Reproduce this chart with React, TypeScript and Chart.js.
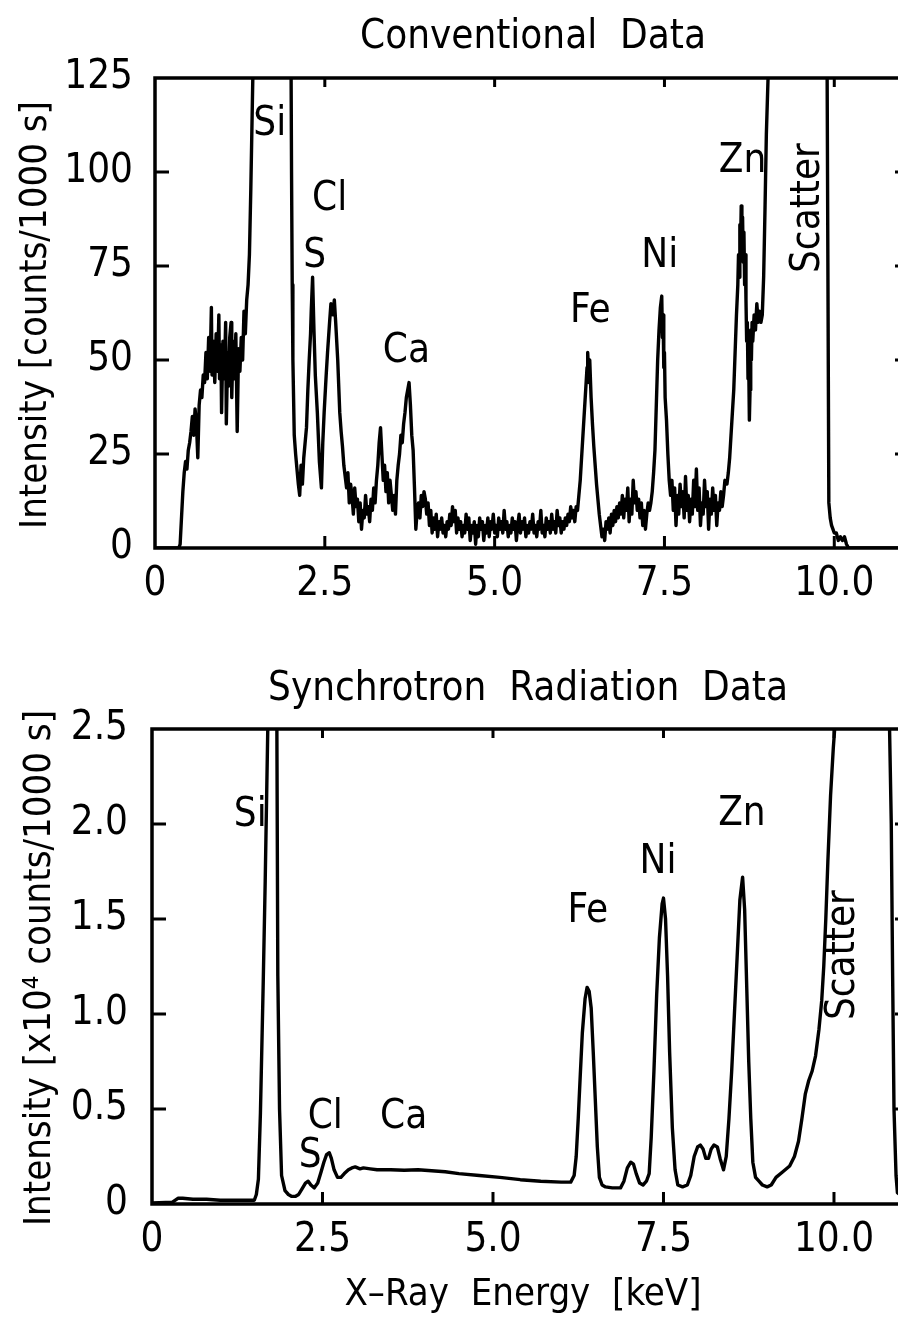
import React, { useEffect, useRef } from 'react';
import { Chart, registerables } from 'chart.js';
Chart.register(...registerables);

// ---------------- Data: Conventional spectrum [keV, counts/1000 s] ----------------
const convLow = [
  [0, 0], [0.35, 0], [0.37, 1], [0.39, 8], [0.41, 15], [0.43, 20], [0.45, 23], [0.47, 21], [0.49, 26],
  [0.51, 28], [0.53, 31], [0.55, 35], [0.57, 30], [0.59, 37], [0.61, 33], [0.63, 24], [0.65, 38],
  [0.67, 42], [0.69, 40], [0.71, 46], [0.73, 44], [0.75, 52], [0.77, 45], [0.79, 56], [0.81, 47],
  [0.83, 64], [0.84, 46], [0.86, 55], [0.88, 44], [0.9, 57], [0.92, 47], [0.94, 62], [0.95, 45],
  [0.97, 54], [0.98, 36], [1.0, 55], [1.02, 45], [1.04, 60], [1.05, 33], [1.07, 52], [1.08, 43],
  [1.1, 56], [1.12, 60], [1.13, 40], [1.15, 55], [1.17, 45], [1.19, 57], [1.21, 31], [1.23, 53],
  [1.25, 47], [1.27, 56], [1.29, 50], [1.31, 63], [1.33, 57], [1.35, 66], [1.37, 70], [1.39, 78],
  [1.41, 95], [1.43, 115], [1.45, 135], [1.5, 300],
];
const convSiS = [
  [1.98, 300], [2.0, 140], [2.01, 100], [2.02, 70], [2.03, 50], [2.05, 30], [2.07, 25], [2.09, 21],
  [2.11, 17], [2.13, 14], [2.15, 22], [2.17, 17], [2.19, 24], [2.21, 28], [2.23, 32], [2.25, 42],
  [2.27, 50], [2.29, 57], [2.3, 63], [2.32, 72], [2.34, 58], [2.36, 46], [2.39, 36], [2.42, 23],
  [2.45, 16], [2.47, 28], [2.49, 36], [2.52, 46], [2.54, 52], [2.57, 60], [2.59, 65], [2.62, 62],
  [2.64, 66], [2.66, 60], [2.69, 50], [2.72, 36], [2.74, 31], [2.76, 27], [2.78, 22], [2.8, 19],
  [2.82, 16], [2.84, 20], [2.86, 12], [2.88, 17],
];
const convCa = [
  [2.9, 14], [2.92, 9], [2.94, 16], [2.96, 11], [2.98, 13], [3.0, 7], [3.02, 12], [3.04, 5], [3.06, 10],
  [3.08, 8], [3.1, 14], [3.12, 9], [3.14, 11], [3.16, 7], [3.18, 13], [3.2, 10], [3.22, 16], [3.24, 12],
  [3.26, 18], [3.28, 22], [3.3, 28], [3.32, 32], [3.34, 25], [3.36, 18], [3.38, 22], [3.4, 15],
  [3.42, 20], [3.44, 12], [3.46, 18], [3.48, 14], [3.5, 10], [3.52, 14], [3.54, 9], [3.56, 18],
  [3.58, 22], [3.6, 25], [3.62, 30], [3.64, 28], [3.66, 33], [3.68, 36], [3.7, 40], [3.72, 42],
  [3.74, 44], [3.76, 38], [3.78, 30], [3.8, 26], [3.82, 16], [3.84, 5], [3.86, 10], [3.88, 12],
  [3.9, 8], [3.92, 14], [3.94, 11], [3.96, 15], [3.98, 13],
];
const convMid = [
  [4.0, 9], [4.02, 12], [4.04, 6], [4.06, 10], [4.08, 4], [4.1, 8], [4.12, 5], [4.14, 9], [4.16, 3],
  [4.18, 7], [4.2, 5], [4.22, 8], [4.24, 4], [4.26, 6], [4.28, 3], [4.3, 7], [4.32, 5], [4.34, 9],
  [4.36, 6], [4.38, 11], [4.4, 7], [4.42, 10], [4.44, 4], [4.46, 8], [4.48, 5], [4.5, 7], [4.52, 3],
  [4.54, 6], [4.56, 4], [4.58, 9], [4.6, 5], [4.62, 8], [4.64, 2], [4.66, 6], [4.68, 4], [4.7, 7],
  [4.72, 1], [4.74, 6], [4.76, 3], [4.78, 8], [4.8, 5], [4.82, 7], [4.84, 2], [4.86, 6], [4.88, 4],
  [4.9, 8], [4.92, 3], [4.94, 7], [4.96, 5], [4.98, 9], [5.0, 4], [5.02, 6], [5.04, 3], [5.06, 8],
  [5.08, 5], [5.1, 7], [5.12, 4], [5.14, 10], [5.16, 5], [5.18, 7], [5.2, 3], [5.22, 6], [5.24, 4],
  [5.26, 8], [5.28, 5], [5.3, 7], [5.32, 2], [5.34, 6], [5.36, 9], [5.38, 4], [5.4, 7], [5.42, 5],
  [5.44, 8], [5.46, 3], [5.48, 6], [5.5, 4], [5.52, 7], [5.54, 5], [5.56, 9], [5.58, 4], [5.6, 6],
  [5.62, 3], [5.64, 7], [5.66, 5], [5.68, 10], [5.7, 4], [5.72, 6], [5.74, 3], [5.76, 8], [5.78, 5],
  [5.8, 7], [5.82, 4], [5.84, 9], [5.86, 5], [5.88, 7], [5.9, 4], [5.92, 10], [5.94, 6], [5.96, 8],
  [5.98, 4], [6.0, 7], [6.02, 5], [6.04, 8], [6.06, 6], [6.08, 9], [6.1, 7], [6.12, 11],
];
const convFe = [
  [6.14, 8], [6.16, 10], [6.18, 7], [6.2, 11], [6.22, 10], [6.24, 14], [6.26, 18], [6.28, 24],
  [6.3, 30], [6.32, 36], [6.34, 42], [6.36, 48], [6.37, 52], [6.39, 44], [6.4, 50], [6.42, 40],
  [6.44, 33], [6.46, 27], [6.48, 22], [6.5, 17], [6.52, 13], [6.54, 9], [6.56, 6], [6.58, 3],
  [6.6, 5], [6.62, 2], [6.64, 7], [6.66, 5], [6.68, 8], [6.7, 4], [6.72, 9], [6.74, 6], [6.76, 10],
  [6.78, 7], [6.8, 11], [6.82, 8], [6.84, 12], [6.86, 9], [6.88, 14], [6.9, 8], [6.92, 13], [6.94, 10],
  [6.96, 16], [6.98, 7], [7.0, 13], [7.02, 9], [7.04, 18], [7.06, 12], [7.08, 15], [7.1, 10],
  [7.12, 13], [7.14, 8], [7.16, 12], [7.18, 6], [7.2, 10], [7.22, 5], [7.24, 9], [7.26, 12], [7.28, 10],
];
const convNi = [
  [7.3, 12], [7.32, 15], [7.34, 20], [7.36, 26], [7.38, 38], [7.4, 50], [7.42, 58], [7.44, 64],
  [7.46, 67], [7.47, 56], [7.48, 62], [7.49, 48], [7.5, 52], [7.51, 40], [7.53, 34], [7.55, 25],
  [7.57, 18], [7.59, 14], [7.61, 18], [7.63, 10], [7.65, 16], [7.67, 6], [7.69, 14], [7.71, 9],
  [7.73, 17], [7.75, 11], [7.77, 15], [7.79, 8], [7.81, 19], [7.83, 10], [7.85, 14], [7.87, 7],
  [7.89, 13], [7.91, 9], [7.93, 18], [7.95, 11], [7.97, 21], [7.99, 10], [8.01, 16], [8.03, 6],
  [8.05, 12], [8.07, 9], [8.09, 18], [8.11, 11], [8.13, 15], [8.15, 5], [8.17, 13], [8.19, 9],
  [8.21, 16], [8.23, 10], [8.25, 14], [8.27, 6], [8.29, 12], [8.31, 10], [8.33, 15], [8.35, 11],
  [8.37, 14], [8.39, 18],
];
const convZn = [
  [8.42, 17], [8.44, 20], [8.46, 24], [8.48, 30], [8.5, 36], [8.52, 42], [8.54, 52], [8.56, 62],
  [8.58, 70], [8.59, 78], [8.6, 72], [8.61, 86], [8.62, 80], [8.63, 91], [8.64, 84], [8.65, 88],
  [8.66, 76], [8.67, 84], [8.68, 70], [8.69, 78], [8.7, 66], [8.71, 55], [8.72, 60], [8.73, 45],
  [8.74, 50], [8.75, 34], [8.76, 42], [8.77, 58], [8.78, 50], [8.79, 60], [8.8, 55], [8.82, 62],
  [8.84, 58], [8.86, 65], [8.88, 60], [8.9, 63], [8.92, 60], [8.94, 62], [8.96, 72], [8.98, 90],
  [9.0, 110], [9.03, 128], [9.06, 150], [9.2, 300], [9.88, 300], [9.895, 125], [9.92, 12], [9.94, 8],
  [9.96, 6], [9.98, 5], [10.0, 4], [10.03, 4], [10.06, 2], [10.09, 3], [10.12, 2], [10.15, 3],
  [10.18, 1], [10.21, 0], [11.1, 0],
];

// ---------------- Data: Synchrotron spectrum [keV, x10^4 counts/1000 s] ----------------
const synLow = [
  [0, 0.005], [0.3, 0.01], [0.38, 0.03], [0.45, 0.03], [0.6, 0.025], [0.8, 0.025], [1.0, 0.02],
  [1.2, 0.02], [1.4, 0.02], [1.5, 0.02],
];
const synSi = [
  [1.53, 0.05], [1.56, 0.13], [1.59, 0.48], [1.63, 1.15], [1.66, 1.7], [1.7, 2.55], [1.74, 3.5],
  [1.8, 3.5], [1.83, 2.6], [1.845, 1.2], [1.87, 0.5], [1.9, 0.15], [1.95, 0.07], [2.0, 0.05],
];
const synSCl = [
  [2.05, 0.04], [2.1, 0.04], [2.15, 0.05], [2.2, 0.08], [2.25, 0.11], [2.29, 0.12], [2.33, 0.1],
  [2.38, 0.085], [2.43, 0.11], [2.48, 0.17], [2.52, 0.22], [2.56, 0.26], [2.6, 0.27], [2.63, 0.24],
  [2.67, 0.18], [2.72, 0.14], [2.77, 0.14], [2.82, 0.16], [2.88, 0.18], [2.93, 0.19], [2.98, 0.195],
  [3.05, 0.185], [3.1, 0.19], [3.2, 0.185], [3.3, 0.18], [3.5, 0.18], [3.7, 0.178], [3.9, 0.18],
  [4.1, 0.175], [4.3, 0.17], [4.5, 0.16], [4.8, 0.15], [5.1, 0.14], [5.4, 0.128], [5.7, 0.12],
  [6.0, 0.115], [6.14, 0.115],
];
const synFe = [
  [6.19, 0.15], [6.22, 0.25], [6.25, 0.45], [6.28, 0.68], [6.31, 0.9], [6.35, 1.08], [6.38, 1.14],
  [6.41, 1.12], [6.44, 1.03], [6.47, 0.8], [6.5, 0.55], [6.53, 0.3], [6.56, 0.14], [6.6, 0.1],
  [6.65, 0.09], [6.75, 0.085], [6.87, 0.085], [6.92, 0.12], [6.97, 0.19], [7.02, 0.22], [7.06, 0.21],
  [7.1, 0.16], [7.15, 0.11], [7.2, 0.1], [7.25, 0.12], [7.29, 0.16],
];
const synNi = [
  [7.32, 0.35], [7.36, 0.7], [7.4, 1.1], [7.44, 1.4], [7.48, 1.58], [7.5, 1.61], [7.53, 1.5],
  [7.56, 1.2], [7.59, 0.8], [7.63, 0.4], [7.67, 0.18], [7.71, 0.1], [7.78, 0.09], [7.85, 0.1],
  [7.9, 0.15], [7.95, 0.25], [8.0, 0.3], [8.04, 0.31], [8.08, 0.29], [8.12, 0.24], [8.16, 0.24],
  [8.2, 0.29], [8.24, 0.31], [8.29, 0.3], [8.33, 0.24], [8.38, 0.18],
];
const synZn = [
  [8.42, 0.25], [8.46, 0.45], [8.5, 0.7], [8.54, 1.0], [8.58, 1.3], [8.62, 1.6], [8.66, 1.72],
  [8.69, 1.55], [8.72, 1.15], [8.75, 0.75], [8.78, 0.45], [8.81, 0.22], [8.85, 0.14], [8.9, 0.12],
  [8.95, 0.1], [9.02, 0.09],
];
const synScatter = [
  [9.08, 0.1], [9.15, 0.14], [9.25, 0.17], [9.35, 0.2], [9.42, 0.25], [9.48, 0.33], [9.53, 0.45],
  [9.58, 0.58], [9.63, 0.65], [9.68, 0.7], [9.73, 0.78], [9.78, 0.92], [9.82, 1.07], [9.85, 1.25],
  [9.88, 1.5], [9.91, 1.8], [9.95, 2.15], [9.99, 2.4], [10.03, 2.6], [10.1, 3.0], [10.75, 3.0],
  [10.81, 2.6], [10.84, 2.0], [10.86, 1.2], [10.88, 0.5], [10.91, 0.15], [10.93, 0.06], [11.0, 0.04],
  [11.1, 0.03],
];

// ---------------- Axes ----------------
const xMax = 11.1;
const xTickValues = [0, 2.5, 5, 7.5, 10];
const xTickLabels = ['0', '2.5', '5.0', '7.5', '10.0'];
const convYTickValues = [0, 25, 50, 75, 100, 125];
const convYTickLabels = ['0', '25', '50', '75', '100', '125'];
const synYTickValues = [0, 0.5, 1, 1.5, 2, 2.5];
const synYTickLabels = ['0', '0.5', '1.0', '1.5', '2.0', '2.5'];

// ---------------- Peak labels ----------------
const convPeakNames = ['Si', 'Cl', 'S', 'Ca', 'Fe', 'Ni', 'Zn', 'Scatter'];
const convPeakE = [1.69, 2.57, 2.35, 3.7, 6.41, 7.43, 8.65, 9.78];
const convPeakI = [109.8, 89.9, 74.7, 49.5, 60.1, 74.7, 100, 90.4];
const synPeakNames = ['Si', 'Cl', 'S', 'Ca', 'Fe', 'Ni', 'Zn', 'Scatter'];
const synPeakE = [1.44, 2.54, 2.32, 3.69, 6.39, 7.42, 8.65, 10.3];
const synPeakI = [1.99, 0.4, 0.195, 0.4, 1.486, 1.744, 1.997, 1.31];

const NARROW = "'Liberation Sans Narrow', 'DejaVu Sans Condensed', 'Arial Narrow', sans-serif";
const COND = "'DejaVu Sans Condensed', 'Liberation Sans Narrow', sans-serif";

const toPoints = (segments: number[][][]) =>
  segments.flat().map(([x, y]) => ({ x, y }));

const framePlugin = {
  id: 'frame',
  afterDatasetsDraw(chart: any, _args: any, opts: any) {
    const { ctx, chartArea } = chart;
    const { left, right, top, bottom } = chartArea;
    const xs = chart.scales.x;
    const ys = chart.scales.y;
    ctx.save();
    ctx.strokeStyle = '#000';
    ctx.lineWidth = 3.5;
    ctx.strokeRect(left, top, right - left, bottom - top);
    ctx.lineWidth = 3;
    ctx.beginPath();
    opts.xInner.forEach((v: number) => {
      const px = xs.getPixelForValue(v);
      ctx.moveTo(px, bottom);
      ctx.lineTo(px, bottom - opts.xLen);
      ctx.moveTo(px, top);
      ctx.lineTo(px, top + opts.xLen - 3);
    });
    opts.yInner.forEach((v: number) => {
      const py = ys.getPixelForValue(v);
      ctx.moveTo(left, py);
      ctx.lineTo(left + opts.yLen, py);
      ctx.moveTo(right, py);
      ctx.lineTo(right - opts.yLen, py);
    });
    ctx.stroke();
    ctx.restore();
  },
  afterDraw(chart: any, _args: any, opts: any) {
    const { ctx } = chart;
    const xs = chart.scales.x;
    const ys = chart.scales.y;
    ctx.save();
    ctx.fillStyle = '#000';
    ctx.font = `40px ${NARROW}`;
    opts.peakNames.forEach((name: string, i: number) => {
      const px = xs.getPixelForValue(opts.peakE[i]);
      const py = ys.getPixelForValue(opts.peakI[i]);
      ctx.save();
      ctx.translate(px, py);
      if (name === 'Scatter') ctx.rotate(-Math.PI / 2);
      ctx.textAlign = 'center';
      ctx.textBaseline = 'alphabetic';
      ctx.fillText(name, 0, 0);
      ctx.restore();
    });
    opts.texts.forEach((t: any) => {
      ctx.save();
      ctx.font = `${t.size}px ${COND}`;
      ctx.translate(t.x, t.y);
      if (t.rotate) ctx.rotate(-Math.PI / 2);
      ctx.textAlign = 'center';
      ctx.textBaseline = t.baseline;
      ctx.fillText(t.text, 0, 0);
      ctx.restore();
    });
    ctx.restore();
  },
};

function makeChart(canvas: HTMLCanvasElement, c: any) {
  return new Chart(canvas, {
    type: 'line',
    data: {
      datasets: [
        {
          data: c.points,
          borderColor: '#000',
          borderWidth: 3.4,
          pointRadius: 0,
          tension: 0,
          fill: false,
          borderJoinStyle: 'round',
        },
      ],
    },
    options: {
      animation: false,
      responsive: false,
      events: [],
      layout: { padding: { top: c.top, right: 21, left: 0, bottom: 0 } },
      plugins: {
        legend: { display: false },
        tooltip: { enabled: false },
        frame: {
          xInner: [2.5, 5, 7.5, 10],
          yInner: c.yInner,
          xLen: 12,
          yLen: 14,
          peakNames: c.peakNames,
          peakE: c.peakE,
          peakI: c.peakI,
          texts: c.texts,
        },
      } as any,
      scales: {
        x: {
          type: 'linear',
          min: 0,
          max: xMax,
          afterBuildTicks: (s: any) => {
            s.ticks = xTickValues.map((v) => ({ value: v }));
          },
          afterFit: (s: any) => {
            s.height = c.xHeight;
          },
          grid: { display: false, drawTicks: false, tickLength: 0 },
          border: { display: false },
          ticks: {
            padding: 17,
            color: '#000',
            maxRotation: 0,
            autoSkip: false,
            font: { family: NARROW, size: 40, lineHeight: 1 },
            callback: (_v: any, i: number) => xTickLabels[i],
          },
        },
        y: {
          type: 'linear',
          min: 0,
          max: c.yMax,
          afterBuildTicks: (s: any) => {
            s.ticks = c.yTicks.map((v: number) => ({ value: v }));
          },
          afterFit: (s: any) => {
            s.width = c.yWidth;
          },
          grid: { display: false, drawTicks: false, tickLength: 0 },
          border: { display: false },
          ticks: {
            padding: c.yPad,
            color: '#000',
            autoSkip: false,
            font: { family: NARROW, size: 40, lineHeight: 1 },
            callback: (_v: any, i: number) => c.yLabels[i],
          },
        },
      },
    } as any,
    plugins: [framePlugin as any],
  });
}

export default function App() {
  const topRef = useRef<HTMLCanvasElement>(null);
  const botRef = useRef<HTMLCanvasElement>(null);

  useEffect(() => {
    document.body.style.margin = '0';
    document.body.style.overflow = 'hidden';
    const c1 = makeChart(topRef.current!, {
      points: toPoints([convLow, convSiS, convCa, convMid, convFe, convNi, convZn]),
      top: 78,
      xHeight: 92,
      yWidth: 155,
      yPad: 22,
      yMax: 125,
      yTicks: convYTickValues,
      yLabels: convYTickLabels,
      yInner: [25, 50, 75, 100],
      peakNames: convPeakNames,
      peakE: convPeakE,
      peakI: convPeakI,
      texts: [
        { text: 'Conventional  Data', x: 533, y: 48, size: 40, baseline: 'alphabetic' },
        { text: 'Intensity [counts/1000 s]', x: 36, y: 315, size: 38, rotate: true, baseline: 'middle' },
      ],
    });
    const c2 = makeChart(botRef.current!, {
      points: toPoints([synLow, synSi, synSCl, synFe, synNi, synZn, synScatter]),
      top: 89,
      xHeight: 113,
      yWidth: 152,
      yPad: 24,
      yMax: 2.5,
      yTicks: synYTickValues,
      yLabels: synYTickLabels,
      yInner: [0.5, 1, 1.5, 2],
      peakNames: synPeakNames,
      peakE: synPeakE,
      peakI: synPeakI,
      texts: [
        { text: 'Synchrotron  Radiation  Data', x: 528, y: 60, size: 40, baseline: 'alphabetic' },
        { text: 'Intensity [x10⁴ counts/1000 s]', x: 40, y: 328, size: 38, rotate: true, baseline: 'middle' },
        { text: 'X–Ray  Energy  [keV]', x: 523, y: 665, size: 38, baseline: 'alphabetic' },
      ],
    });
    return () => {
      c1.destroy();
      c2.destroy();
    };
  }, []);

  return (
    <div style={{ position: 'relative', width: 898, height: 1317, overflow: 'hidden', background: '#fff' }}>
      <canvas ref={topRef} width={930} height={640} style={{ position: 'absolute', left: 0, top: 0, width: 930, height: 640 }} />
      <canvas ref={botRef} width={930} height={677} style={{ position: 'absolute', left: 0, top: 640, width: 930, height: 677 }} />
    </div>
  );
}
